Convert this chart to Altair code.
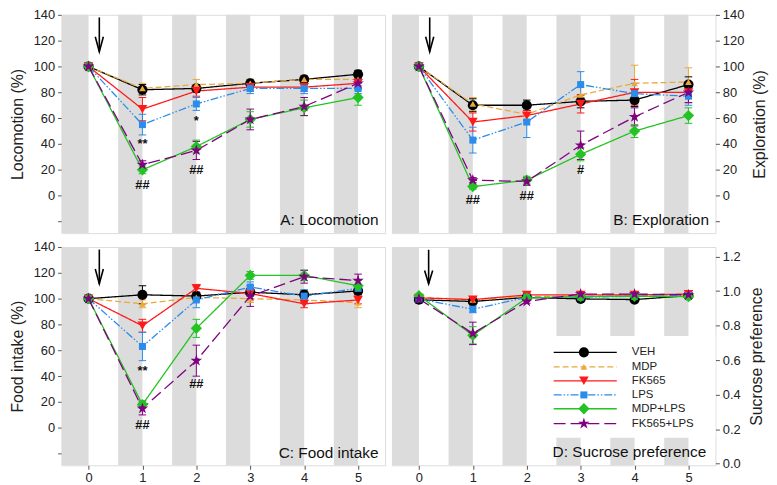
import altair as alt
import pandas as pd

FONT = "Liberation Sans"

days = [0, 1, 2, 3, 4, 5]
series = ["VEH", "MDP", "FK565", "LPS", "MDP+LPS", "FK565+LPS"]
colors = ["#000000", "#EBA93A", "#FF1A1A", "#2B8CEB", "#22C322", "#800080"]
dashes = [[1, 0], [6, 3], [1, 0], [8, 2, 1.5, 2, 1.5, 2], [1, 0], [12, 5]]
STAR = ("M0,-1L0.2245,-0.309L0.951,-0.309L0.3633,0.118L0.588,0.809L0,0.382"
        "L-0.588,0.809L-0.3633,0.118L-0.951,-0.309L-0.2245,-0.309Z")
shapes = ["circle", "triangle-up", "triangle-down", "square", "diamond", STAR]
sizes = [105, 45, 95, 50, 130, 150]

# ---- Panel A: Locomotion (%)
loco_mean = {
    "VEH":       [100, 82, 83, 87, 90, 94],
    "MDP":       [100, 83, 86, 87, 90, 90],
    "FK565":     [100, 67, 81, 84, 84, 87],
    "LPS":       [100, 55, 71, 83, 83, 83],
    "MDP+LPS":   [100, 20, 38, 59, 68, 76],
    "FK565+LPS": [100, 24, 35, 59, 69, 87],
}
loco_sem = {
    "VEH":       [0, 4, 3, 3, 3, 3],
    "MDP":       [0, 4, 4, 3, 3, 3],
    "FK565":     [0, 9, 4, 3, 3, 3],
    "LPS":       [0, 8, 5, 4, 4, 4],
    "MDP+LPS":   [0, 3, 5, 6, 6, 6],
    "FK565+LPS": [0, 3, 7, 8, 7, 4],
}
# ---- Panel B: Exploration (%)
expl_mean = {
    "VEH":       [100, 70, 70, 73, 74, 86],
    "MDP":       [100, 71, 63, 78, 87, 88],
    "FK565":     [100, 57, 62, 71, 80, 80],
    "LPS":       [100, 43, 57, 86, 79, 77],
    "MDP+LPS":   [100, 7, 12, 32, 50, 62],
    "FK565+LPS": [100, 12, 11, 39, 61, 80],
}
expl_sem = {
    "VEH":       [0, 5, 4, 5, 5, 6],
    "MDP":       [0, 5, 4, 6, 14, 11],
    "FK565":     [0, 7, 4, 7, 10, 8],
    "LPS":       [0, 10, 12, 10, 8, 7],
    "MDP+LPS":   [0, 2, 3, 5, 5, 6],
    "FK565+LPS": [0, 2, 3, 11, 7, 8],
}
# ---- Panel C: Food intake (%)
food_mean = {
    "VEH":       [100, 103, 102, 105, 103, 106],
    "MDP":       [100, 96, 101, 100, 99, 97],
    "FK565":     [100, 79, 108, 104, 96, 99],
    "LPS":       [100, 63, 99, 109, 102, 108],
    "MDP+LPS":   [100, 18, 77, 118, 118, 110],
    "FK565+LPS": [100, 15, 52, 102, 117, 114],
}
food_sem = {
    "VEH":       [0, 7, 3, 3, 3, 3],
    "MDP":       [0, 3, 3, 3, 3, 4],
    "FK565":     [0, 5, 3, 4, 3, 3],
    "LPS":       [0, 11, 6, 4, 5, 3],
    "MDP+LPS":   [0, 3, 7, 3, 4, 4],
    "FK565+LPS": [0, 5, 12, 8, 5, 5],
}
# ---- Panel D: Sucrose preference
sucr_mean = {
    "VEH":       [0.95, 0.94, 0.964, 0.955, 0.951, 0.974],
    "MDP":       [0.965, 0.95, 0.97, 0.97, 0.975, 0.975],
    "FK565":     [0.961, 0.951, 0.978, 0.978, 0.978, 0.983],
    "LPS":       [0.955, 0.895, 0.964, 0.965, 0.97, 0.975],
    "MDP+LPS":   [0.974, 0.744, 0.96, 0.968, 0.97, 0.968],
    "FK565+LPS": [0.955, 0.755, 0.94, 0.983, 0.983, 0.979],
}
sucr_sem = {
    "VEH":       [0, 0.01, 0.01, 0.01, 0.01, 0.01],
    "MDP":       [0, 0.01, 0.01, 0.01, 0.01, 0.01],
    "FK565":     [0, 0.01, 0.01, 0.01, 0.01, 0.01],
    "LPS":       [0, 0.02, 0.01, 0.01, 0.01, 0.01],
    "MDP+LPS":   [0, 0.05, 0.01, 0.01, 0.01, 0.01],
    "FK565+LPS": [0, 0.065, 0.01, 0.01, 0.01, 0.01],
}

# significance marks: (day, y, text)
loco_marks = [(1, 40, "**"), (2, 58, "*"), (1, 8, "##"), (2, 20, "##")]
expl_marks = [(1, -3.5, "##"), (2, 0, "##"), (3, 20, "#")]
food_marks = [(1, 44, "**"), (2, 34, "##"), (1, 2.5, "##")]
sucr_marks = []

# grey night bands
band_start = [-0.5, 0.55, 1.55, 2.55, 3.55, 4.55]
band_end = [0.0, 1.0, 2.0, 3.0, 4.0, 5.0]

# arrow (day, top, tip, head) in each panel's units
arrow_pct = (0.2, 138, 111.5, 123)
arrow_sucr = (0.18, 1.24, 1.043, 1.12)

# panel labels (x, y)
label_pos = {"A": (5.38, -19), "B": (5.38, -19), "C": (5.38, -19.5), "D": (5.33, 0.065)}

# legend rows (D)
legend_y = [0.645, 0.561, 0.480, 0.398, 0.318, 0.232]
legend_line = (2.5, 3.67)
legend_marker_x = 3.06
legend_text_x = 3.95
legend_box = (2.45, 5.5, 0.15, 0.74)

W, H = 326, 220
XS = alt.Scale(domain=[-0.5, 5.5], nice=False, zero=False)
PCT = alt.Scale(domain=[-29, 140], nice=False, zero=False)
SUC = alt.Scale(domain=[-0.01, 1.256], nice=False, zero=False)

COLOR = alt.Color("series:N", scale=alt.Scale(domain=series, range=colors), legend=None)
DASH = alt.StrokeDash("series:N", scale=alt.Scale(domain=series, range=dashes), legend=None)


def long_df(means, sems):
    rows = []
    for s in series:
        for i, t in enumerate(days):
            rows.append({"t": t, "series": s, "value": means[s][i], "sem": sems[s][i]})
    return pd.DataFrame(rows)


def make_panel(means, sems, marks, label, lpos, yscale, ytitle, orient, yvalues,
               show_x, arrow, fmt=None, legend=False):
    if show_x:
        xax = alt.Axis(values=days, title=None, tickSize=4, labelPadding=2, grid=False,
                       domain=False, labelFontSize=13, tickColor="#555", labelColor="#222",
                       labelFont=FONT)
    else:
        xax = alt.Axis(values=days, title=None, labels=False, ticks=False, grid=False,
                       domain=False)
    yargs = dict(values=yvalues, title=ytitle, orient=orient, tickSize=4, labelPadding=3,
                 grid=False, domain=False, labelFontSize=13, titleFontSize=16,
                 titleFontWeight="normal", tickColor="#555", labelColor="#222",
                 titleColor="#222", labelFont=FONT, titleFont=FONT, titlePadding=8,
                 labelExpr="datum.value < 0 ? '' : datum.label")
    if fmt:
        yargs["format"] = fmt
    if orient == "right":
        yargs["titleAngle"] = 270
        yargs["titleBaseline"] = "top"
    yax = alt.Axis(**yargs)

    def X(f):
        return alt.X(f"{f}:Q", scale=XS, axis=xax)

    def Y(f):
        return alt.Y(f"{f}:Q", scale=yscale, axis=yax)

    df = long_df(means, sems)
    base = alt.Chart(df)

    bands = alt.Chart(pd.DataFrame({"start": band_start, "end": band_end})).mark_rect(
        color="#DCDCDC").encode(x=X("start"), x2="end:Q", y=alt.value(0), y2=alt.value(H))
    layers = [bands]

    if legend:
        bx0, bx1, by0, by1 = legend_box
        box = alt.Chart(pd.DataFrame({"x0": [bx0], "x1": [bx1], "y0": [by0], "y1": [by1]})).mark_rect(
            color="white").encode(x=X("x0"), x2="x1:Q", y=Y("y0"), y2="y1:Q")
        layers.append(box)

    err = base.transform_filter("datum.sem > 0").transform_calculate(
        lo="datum.value - datum.sem", hi="datum.value + datum.sem",
        xl="datum.t - 0.07", xr="datum.t + 0.07")
    layers.append(err.mark_rule(strokeWidth=1).encode(x=X("t"), y=Y("lo"), y2="hi:Q", color=COLOR))
    layers.append(err.mark_rule(strokeWidth=1).encode(x=X("xl"), x2="xr:Q", y=Y("lo"), color=COLOR))
    layers.append(err.mark_rule(strokeWidth=1).encode(x=X("xl"), x2="xr:Q", y=Y("hi"), color=COLOR))

    layers.append(base.mark_line(strokeWidth=1.3).encode(
        x=X("t"), y=Y("value"), color=COLOR, strokeDash=DASH))
    for s, c, shp, sz in zip(series, colors, shapes, sizes):
        layers.append(base.transform_filter(alt.datum.series == s).mark_point(
            filled=True, opacity=1, strokeWidth=0, color=c, shape=shp, size=sz).encode(
            x=X("t"), y=Y("value")))

    if marks:
        mdf = pd.DataFrame(marks, columns=["t", "y", "txt"])
        layers.append(alt.Chart(mdf).mark_text(
            fontSize=13, fontWeight="bold", font=FONT, color="#111", baseline="middle").encode(
            x=X("t"), y=Y("y"), text="txt:N"))

    ldf = pd.DataFrame({"x": [lpos[0]], "y": [lpos[1]], "txt": [label]})
    layers.append(alt.Chart(ldf).mark_text(
        fontSize=15.5, font=FONT, align="right", baseline="middle", color="#111").encode(
        x=X("x"), y=Y("y"), text="txt:N"))

    at, atop, atip, ahead = arrow
    shaft = alt.Chart(pd.DataFrame({"t": [at], "y0": [atop], "y1": [atip]})).mark_rule(
        color="black", strokeWidth=1.6).encode(x=X("t"), y=Y("y0"), y2="y1:Q")
    head = alt.Chart(pd.DataFrame({"t": [at - 0.075, at, at + 0.075],
                                   "y": [ahead, atip, ahead], "o": [0, 1, 2]})).mark_line(
        color="black", strokeWidth=1.6).encode(x=X("t"), y=Y("y"), order="o:Q")
    layers += [shaft, head]

    if legend:
        lg = pd.DataFrame({"series": series, "ly": legend_y})
        lgc = alt.Chart(lg).transform_calculate(
            x0=str(legend_line[0]), x1=str(legend_line[1]),
            mx=str(legend_marker_x), tx=str(legend_text_x))
        layers.append(lgc.mark_rule(strokeWidth=1.3).encode(
            x=X("x0"), x2="x1:Q", y=Y("ly"), color=COLOR, strokeDash=DASH))
        for s, c, shp, sz in zip(series, colors, shapes, sizes):
            layers.append(lgc.transform_filter(alt.datum.series == s).mark_point(
                filled=True, opacity=1, strokeWidth=0, color=c, shape=shp, size=sz).encode(
                x=X("mx"), y=Y("ly")))
        layers.append(lgc.mark_text(fontSize=11.5, font=FONT, align="left", baseline="middle",
                                    color="#222").encode(x=X("tx"), y=Y("ly"), text="series:N"))

    return alt.layer(*layers).properties(width=W, height=H)


pct_vals = [-20, 0, 20, 40, 60, 80, 100, 120, 140]
suc_vals = [0.0, 0.2, 0.4, 0.6, 0.8, 1.0, 1.2]

A = make_panel(loco_mean, loco_sem, loco_marks, "A: Locomotion", label_pos["A"], PCT,
               "Locomotion (%)", "left", pct_vals, False, arrow_pct)
B = make_panel(expl_mean, expl_sem, expl_marks, "B: Exploration", label_pos["B"], PCT,
               "Exploration (%)", "right", pct_vals, False, arrow_pct)
C = make_panel(food_mean, food_sem, food_marks, "C: Food intake", label_pos["C"], PCT,
               "Food intake (%)", "left", pct_vals, True, arrow_pct)
D = make_panel(sucr_mean, sucr_sem, sucr_marks, "D: Sucrose preference", label_pos["D"], SUC,
               "Sucrose preference", "right", suc_vals, True, arrow_sucr, fmt=".1f", legend=True)

chart = alt.vconcat(
    alt.hconcat(A, B, spacing=5),
    alt.hconcat(C, D, spacing=5),
    spacing=6,
).properties(
    padding={"left": 0, "top": -2, "right": 0, "bottom": 0}
).configure_view(
    stroke="#666666", strokeWidth=1.5
).configure(font=FONT)

chart.save("out.html", embed_options={"renderer": "svg", "actions": False})
